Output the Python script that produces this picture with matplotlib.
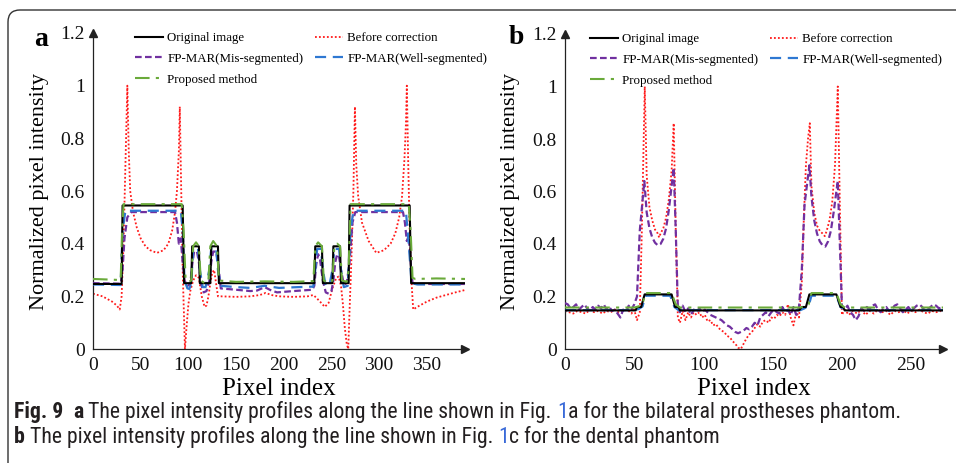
import numpy as np
import matplotlib
matplotlib.use("Agg")
import matplotlib.pyplot as plt
from matplotlib import font_manager
from matplotlib.patches import FancyBboxPatch
from matplotlib.transforms import IdentityTransform

plt.rcParams['font.family'] = 'Liberation Serif'

series_names = ['Original image', 'Before correction', 'FP-MAR(Mis-segmented)',
                'FP-MAR(Well-segmented)', 'Proposed method']
y_ticks = [0, 0.2, 0.4, 0.6, 0.8, 1.0, 1.2]
y_tick_labels = ['0', '0.2', '0.4', '0.6', '0.8', '1', '1.2']
x_ticks_a = [0, 50, 100, 150, 200, 250, 300, 350]
x_ticks_b = [0, 50, 100, 150, 200, 250]

# ---- panel a : bilateral prostheses phantom (x, y) ----
orig_a = [(0, 0.247), (30, 0.247), (31, 0.545), (94, 0.545), (95.5, 0.25), (103, 0.25), (104, 0.39),
          (111, 0.39), (112, 0.25), (123, 0.25), (124, 0.39), (131, 0.39), (132, 0.25), (232, 0.25),
          (233, 0.39), (240, 0.39), (241, 0.25), (251, 0.25), (252, 0.39), (259, 0.39), (260, 0.25),
          (268, 0.25), (269, 0.545), (332, 0.545), (333.5, 0.25), (390, 0.25)]

before_a = [(0, 0.21), (5, 0.205), (10, 0.2), (15, 0.19), (20, 0.18), (25, 0.165), (28, 0.15), (30, 0.2),
            (32, 0.4), (34, 0.7), (36, 1.0), (37.5, 0.75), (39, 0.6), (42, 0.52), (46, 0.46), (50, 0.42),
            (55, 0.39), (60, 0.375), (67, 0.365), (74, 0.375), (79, 0.4), (83, 0.45), (86, 0.52), (88, 0.6),
            (90, 0.75), (91, 0.92), (92.5, 0.6), (94, 0.3), (96.4, 0.0), (98, 0.08), (100, 0.17), (102, 0.22),
            (105, 0.26), (108, 0.28), (111, 0.27), (114, 0.2), (117, 0.16), (119, 0.165), (121, 0.2),
            (123, 0.25), (125, 0.29), (127, 0.3), (129, 0.25), (131, 0.2), (134, 0.2), (150, 0.198),
            (165, 0.2), (175, 0.205), (181, 0.213), (187, 0.205), (195, 0.2), (210, 0.198), (225, 0.2),
            (231, 0.205), (234, 0.195), (238, 0.18), (243, 0.16), (247, 0.175), (251, 0.23), (255, 0.27),
            (257.5, 0.275), (260, 0.24), (262, 0.17), (264, 0.08), (266, 0.02), (267.6, 0.0), (269, 0.15),
            (271, 0.35), (273, 0.6), (274.6, 0.92), (276, 0.7), (278, 0.58), (282, 0.48), (289, 0.41),
            (297, 0.365), (305, 0.375), (312, 0.4), (317, 0.44), (321, 0.5), (324, 0.58), (326.5, 0.72),
            (328, 0.85), (329, 1.0), (330.5, 0.7), (332, 0.45), (334, 0.25), (335.7, 0.15), (340, 0.16),
            (350, 0.18), (360, 0.195), (370, 0.205), (380, 0.215), (390, 0.224)]

mis_a = [(0, 0.25), (29, 0.248), (31, 0.3), (33, 0.42), (36, 0.5), (40, 0.52), (60, 0.52), (86, 0.52),
         (88, 0.48), (90, 0.40), (92, 0.42), (94, 0.33), (96, 0.26), (99, 0.24), (102, 0.245), (104, 0.32),
         (106, 0.37), (109, 0.37), (111, 0.33), (113, 0.25), (116, 0.215), (119, 0.22), (122, 0.26),
         (124, 0.33), (126, 0.37), (129, 0.37), (131, 0.33), (134, 0.23), (150, 0.225), (165, 0.22),
         (172, 0.222), (180, 0.235), (187, 0.222), (193, 0.215), (210, 0.22), (230, 0.225), (232, 0.24),
         (234, 0.32), (236, 0.36), (238, 0.34), (241, 0.26), (244, 0.215), (247, 0.21), (250, 0.22),
         (252, 0.26), (254, 0.33), (256, 0.36), (258, 0.35), (260, 0.3), (263, 0.245), (266, 0.25),
         (269, 0.33), (272, 0.48), (275, 0.52), (300, 0.52), (325, 0.52), (327, 0.48), (329, 0.41),
         (331, 0.43), (333, 0.33), (335, 0.25), (340, 0.247), (390, 0.247)]

well_a = [(0, 0.245), (29, 0.243), (31, 0.45), (34, 0.525), (60, 0.525), (92, 0.525), (94, 0.45),
          (96, 0.26), (99, 0.23), (101, 0.228), (103, 0.25), (105, 0.38), (110, 0.385), (112, 0.3),
          (115, 0.235), (118, 0.235), (122, 0.3), (124, 0.385), (129, 0.385), (131, 0.3), (134, 0.24),
          (150, 0.235), (165, 0.232), (180, 0.24), (195, 0.232), (215, 0.235), (231, 0.237), (233, 0.3),
          (235, 0.38), (239, 0.38), (241, 0.3), (244, 0.24), (248, 0.245), (251, 0.3), (253, 0.38),
          (258, 0.38), (260, 0.3), (263, 0.235), (267, 0.24), (270, 0.45), (273, 0.525), (300, 0.525),
          (328, 0.525), (331, 0.4), (334, 0.25), (340, 0.245), (390, 0.245)]

prop_a = [(0, 0.266), (15, 0.264), (29, 0.262), (30.5, 0.45), (32, 0.55), (60, 0.55), (93, 0.55),
          (95, 0.45), (97, 0.27), (100, 0.255), (103, 0.26), (105, 0.39), (108, 0.405), (111, 0.39),
          (113, 0.26), (117, 0.25), (121, 0.26), (123, 0.39), (126, 0.41), (130, 0.39), (132, 0.26),
          (150, 0.255), (180, 0.257), (210, 0.255), (231, 0.258), (233, 0.39), (236, 0.405), (240, 0.39),
          (242, 0.26), (247, 0.25), (251, 0.26), (253, 0.39), (256, 0.40), (259, 0.39), (261, 0.26),
          (266, 0.255), (268, 0.30), (270, 0.55), (300, 0.55), (331, 0.55), (333, 0.45), (335, 0.27),
          (338, 0.266), (360, 0.268), (390, 0.266)]

# ---- panel b : dental phantom (x, y) ----
orig_b = [(0, 0.147), (51, 0.147), (52, 0.16), (55, 0.16), (57.5, 0.208), (77, 0.208), (79.5, 0.16),
          (82, 0.16), (83, 0.147), (169, 0.147), (171, 0.16), (174, 0.16), (176.5, 0.208), (196, 0.208),
          (199, 0.16), (201, 0.16), (202, 0.147), (273, 0.147)]

before_b = [(0, 0.145), (3, 0.14), (6, 0.135), (9, 0.145), (12, 0.14), (15, 0.135), (18, 0.15), (21, 0.14),
            (24, 0.145), (27, 0.135), (30, 0.145), (33, 0.14), (36, 0.15), (39, 0.14), (42, 0.145),
            (45, 0.15), (48, 0.135), (50, 0.15), (52, 0.11), (54, 0.14), (55.5, 0.45), (57.6, 1.0),
            (59, 0.66), (61, 0.54), (63, 0.49), (65, 0.455), (67, 0.44), (68, 0.425), (69, 0.44),
            (71, 0.46), (73, 0.5), (75, 0.57), (77, 0.68), (78.5, 0.86), (80, 0.45), (81.5, 0.12),
            (83, 0.1), (85, 0.145), (87, 0.11), (89, 0.14), (91, 0.12), (93, 0.14), (95, 0.13), (97, 0.14),
            (99, 0.12), (101, 0.13), (103, 0.105), (105, 0.11), (107, 0.09), (109, 0.095), (111, 0.08),
            (113, 0.07), (115, 0.065), (117, 0.05), (119, 0.045), (121, 0.03), (123, 0.02), (125, 0.005),
            (127, 0.0), (129, 0.02), (131, 0.04), (133, 0.055), (135, 0.065), (137, 0.08), (139, 0.095),
            (141, 0.085), (143, 0.105), (145, 0.11), (147, 0.10), (149, 0.12), (151, 0.115), (153, 0.13),
            (155, 0.125), (157, 0.14), (159, 0.13), (161, 0.17), (163, 0.12), (165, 0.09), (167, 0.14),
            (169, 0.12), (171, 0.25), (172.5, 0.5), (174, 0.7), (175.5, 0.8), (176.8, 0.86), (178, 0.62),
            (180, 0.52), (182, 0.47), (184, 0.45), (186, 0.44), (187.6, 0.43), (189, 0.45), (191, 0.49),
            (193, 0.56), (195, 0.7), (197, 1.0), (198.5, 0.55), (200, 0.13), (202, 0.15), (205, 0.13),
            (208, 0.145), (211, 0.135), (214, 0.15), (217, 0.13), (220, 0.145), (223, 0.135), (226, 0.15),
            (229, 0.14), (232, 0.145), (235, 0.13), (238, 0.145), (241, 0.14), (244, 0.15), (247, 0.135),
            (250, 0.145), (253, 0.14), (256, 0.15), (259, 0.14), (262, 0.135), (265, 0.145), (268, 0.14),
            (271, 0.145), (273, 0.14)]

mis_b = [(0, 0.175), (2, 0.17), (4, 0.155), (6, 0.16), (8, 0.17), (10, 0.15), (12, 0.16), (14, 0.17),
         (16, 0.155), (18, 0.145), (20, 0.16), (22, 0.15), (24, 0.165), (26, 0.155), (28, 0.17), (30, 0.15),
         (32, 0.16), (34, 0.145), (36, 0.15), (38, 0.135), (40, 0.12), (42, 0.15), (44, 0.14), (46, 0.165),
         (48, 0.15), (50, 0.17), (52, 0.2), (54, 0.45), (57.3, 0.64), (59, 0.52), (61, 0.46), (63, 0.425),
         (65, 0.405), (67, 0.395), (69, 0.4), (71, 0.42), (73, 0.46), (75, 0.53), (77, 0.62), (78.5, 0.69),
         (80, 0.45), (81.5, 0.16), (83, 0.14), (85, 0.165), (87, 0.14), (89, 0.155), (91, 0.13), (93, 0.15),
         (95, 0.14), (97, 0.155), (99, 0.14), (101, 0.15), (103, 0.14), (105, 0.13), (107, 0.125),
         (109, 0.12), (111, 0.115), (113, 0.11), (115, 0.1), (117, 0.09), (119, 0.085), (121, 0.075),
         (123, 0.065), (125, 0.06), (127, 0.065), (129, 0.07), (131, 0.08), (133, 0.075), (135, 0.085),
         (137, 0.1), (139, 0.09), (141, 0.12), (143, 0.13), (145, 0.14), (147, 0.125), (149, 0.14),
         (151, 0.15), (153, 0.14), (155, 0.135), (157, 0.16), (159, 0.14), (161, 0.15), (163, 0.13),
         (165, 0.16), (167, 0.13), (169, 0.16), (171, 0.3), (173, 0.55), (176.5, 0.70), (178, 0.58),
         (180, 0.49), (182, 0.44), (184, 0.41), (186, 0.395), (188, 0.39), (190, 0.41), (192, 0.45),
         (194, 0.52), (197, 0.64), (198.5, 0.4), (200, 0.16), (202, 0.15), (204, 0.165), (206, 0.14),
         (208, 0.13), (210, 0.11), (212, 0.125), (214, 0.155), (216, 0.145), (218, 0.16), (220, 0.15),
         (222, 0.165), (224, 0.17), (226, 0.15), (228, 0.14), (230, 0.155), (232, 0.16), (234, 0.145),
         (236, 0.15), (238, 0.165), (240, 0.17), (242, 0.155), (244, 0.14), (246, 0.15), (248, 0.16),
         (250, 0.145), (252, 0.155), (254, 0.165), (256, 0.17), (258, 0.16), (260, 0.145), (262, 0.15),
         (264, 0.16), (266, 0.17), (268, 0.165), (270, 0.155), (273, 0.16)]

well_b = [(0, 0.148), (50, 0.148), (53, 0.152), (56, 0.162), (58, 0.203), (76, 0.203), (79, 0.16),
          (82, 0.148), (170, 0.148), (173, 0.155), (176, 0.165), (178, 0.203), (196, 0.203), (199, 0.16),
          (202, 0.148), (273, 0.148)]

prop_b = [(0, 0.158), (50, 0.158), (53, 0.162), (56, 0.17), (58, 0.213), (77, 0.213), (80, 0.17),
          (83, 0.158), (170, 0.158), (173, 0.162), (176, 0.17), (178, 0.213), (196, 0.213), (199, 0.17),
          (202, 0.158), (273, 0.158)]

styles = {
    'Original image': dict(color='black', lw=1.5, ls='-', zorder=5),
    'Before correction': dict(color='#ff1a1a', lw=1.3, ls=(0, (1, 1.2)), zorder=2),
    'FP-MAR(Mis-segmented)': dict(color='#7030a0', lw=1.6, ls=(0, (3, 1.5)), zorder=3),
    'FP-MAR(Well-segmented)': dict(color='#2e78d2', lw=1.6, ls=(0, (5, 3)), zorder=4),
    'Proposed method': dict(color='#6aaa3a', lw=1.5, ls=(0, (7, 3, 1.5, 3)), zorder=6),
}

W, H = 956, 463
fig = plt.figure(figsize=(W / 100, H / 100), dpi=100)


def add_axes_px(left, top, right, bottom):
    return fig.add_axes([left / W, 1 - bottom / H, (right - left) / W, (bottom - top) / H])


def draw_panel(ax, data, xmax, xticks, letter, letter_xy, leg_xy, ylab_x):
    lines = {}
    for name, pts in zip(series_names, data):
        xy = np.array(pts).T
        st = styles[name]
        lines[name], = ax.plot(xy[0], xy[1], color=st['color'], lw=st['lw'],
                               linestyle=st['ls'], zorder=st['zorder'], label=name)
    ax.set_xlim(0, xmax)
    ax.set_ylim(0, 1.2)
    ax.spines[['top', 'right']].set_visible(False)
    for s in ['left', 'bottom']:
        ax.spines[s].set_linewidth(0.9)
        ax.spines[s].set_color('#222222')
    ax.plot([1], [0], marker='>', ms=6, color='#222222', transform=ax.transAxes, clip_on=False)
    ax.plot([0], [1], marker='^', ms=6, color='#222222', transform=ax.transAxes, clip_on=False)
    ax.set_xticks(xticks)
    ax.set_yticks(y_ticks)
    ax.set_yticklabels(y_tick_labels)
    ax.tick_params(length=0, labelsize=14, pad=6, colors='#111111')
    ax.set_xlabel('Pixel index', fontsize=18, va='center')
    ax.xaxis.set_label_coords(0.5, -(389 - 349) / 316)
    ax.set_ylabel('Normalized pixel intensity', fontsize=16, va='center')
    ax.yaxis.set_label_coords(ylab_x, 0.5)
    fig.text(letter_xy[0] / W, 1 - letter_xy[1] / H, letter, fontsize=20, weight='bold',
             ha='center', va='center')
    order = ['Original image', 'FP-MAR(Mis-segmented)', 'Proposed method',
             'Before correction', 'FP-MAR(Well-segmented)']
    fig.legend([lines[n] for n in order], order, loc='upper left',
               bbox_to_anchor=(leg_xy[0] / W, 1 - leg_xy[1] / H), ncol=2, frameon=False,
               fontsize=9.3, handlelength=2.2, handletextpad=0.3, columnspacing=0.9,
               labelspacing=0.68, borderpad=0, borderaxespad=0)


ax_a = add_axes_px(93, 33, 465, 349)
ax_b = add_axes_px(565, 34, 943, 349)
draw_panel(ax_a, [orig_a, before_a, mis_a, well_a, prop_a], 390, x_ticks_a, 'a', (41, 40),
           (135, 32), -(93 - 40) / 372)
draw_panel(ax_b, [orig_b, before_b, mis_b, well_b, prop_b], 273, x_ticks_b, 'b', (516, 37),
           (590, 33), -(565 - 510) / 378)

# rounded frame around the figure block (clipped by the image edges)
frame = FancyBboxPatch((8, -60), 1100, H - 10 + 60, boxstyle='round,pad=0,rounding_size=12',
                       transform=IdentityTransform(), fill=False, ec='#333333', lw=1.0)
fig.add_artist(frame)

# caption
names = {f.name for f in font_manager.fontManager.ttflist}
cap_font = next((f for f in ['Liberation Sans Narrow', 'Roboto Condensed', 'Open Sans Condensed',
                             'Noto Sans', 'Lato'] if f in names), 'DejaVu Sans')
renderer = fig.canvas.get_renderer()
cap_color = '#231f20'
link_color = '#3a6ad8'

line1 = [('Fig. 9', 'bold', cap_color, 0), ('a', 'bold', cap_color, 2),
         ('The pixel intensity profiles along the line shown in Fig.', 'normal', cap_color, 1),
         ('1', 'normal', link_color, 1),
         ('a for the bilateral prostheses phantom.', 'normal', cap_color, 0)]
line2 = [('b', 'bold', cap_color, 0),
         ('The pixel intensity profiles along the line shown in Fig.', 'normal', cap_color, 1),
         ('1', 'normal', link_color, 1), ('c for the dental phantom', 'normal', cap_color, 0)]


def measure(s, size, weight='normal'):
    t = fig.text(0, 0, s, fontsize=size, family=cap_font, weight=weight)
    w = t.get_window_extent(renderer).width
    t.remove()
    return w


def draw_rich(x, y, parts, size, draw=True):
    space = measure('a a', size) - measure('aa', size)
    for text, weight, color, lead in parts:
        x += lead * space
        if draw:
            t = fig.text(x / W, 1 - y / H, text, fontsize=size, family=cap_font, weight=weight,
                         color=color, ha='left', va='baseline')
            x = t.get_window_extent(renderer).x1
        else:
            x += measure(text, size, weight)
    return x


base = 12
width1 = draw_rich(0, 0, line1, base, draw=False)
cap_size = base * (902 - 14) / width1
draw_rich(14, 418, line1, cap_size)
draw_rich(14, 443, line2, cap_size)

fig.savefig('out.png', dpi=100)
